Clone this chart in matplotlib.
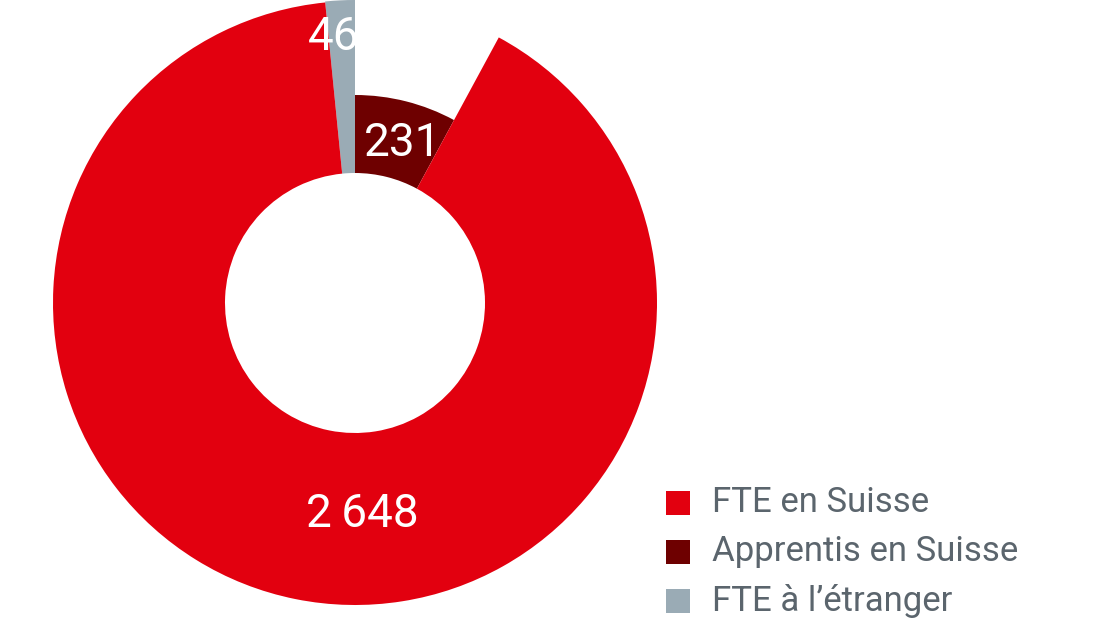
import matplotlib
matplotlib.use("Agg")
import matplotlib.pyplot as plt
from matplotlib.patches import Wedge, Rectangle

labels = ["FTE en Suisse", "Apprentis en Suisse", "FTE à l’étranger"]
values = [2648, 231, 46]
valueText = ["2\u2009648", "231", "46"]
colors = ["#e2000f", "#6e0000", "#9aabb5"]

plt.rcParams["font.family"] = ["Roboto", "DejaVu Sans"]
fig = plt.figure(figsize=(11.1, 6.25), dpi=100)
ax = fig.add_axes([0, 0, 1, 1])
ax.set_xlim(0, 1110)
ax.set_ylim(0, 625)
ax.set_aspect("equal")
ax.axis("off")

cx, cy = 355, 322
rIn = 130
total = sum(values)
degApp = values[1] / total * 360
degAbroad = values[2] / total * 360

# apprentices: clockwise from top, shorter radius
ax.add_patch(Wedge((cx, cy), 208, 90 - degApp, 90, width=208 - rIn, color=colors[1], lw=0))
# abroad: just left of top
ax.add_patch(Wedge((cx, cy), 303, 90, 90 + degAbroad, width=303 - rIn, color=colors[2], lw=0))
# main slice
ax.add_patch(Wedge((cx, cy), 302, 90 + degAbroad, 450 - degApp, width=302 - rIn, color=colors[0], lw=0))

ax.text(403, 482, valueText[1], color="white", fontsize=33, ha="center", va="center")
ax.text(334, 588, valueText[2], color="white", fontsize=33, ha="center", va="center")
ax.text(362, 111, valueText[0], color="white", fontsize=33, ha="center", va="center")

for i, lab in enumerate(labels):
    y = 122 - i * 49
    ax.add_patch(Rectangle((666, y - 12), 24, 24, color=colors[i], lw=0))
    ax.text(712, y, lab, color="#5b656d", fontsize=25, va="center", ha="left")

fig.savefig("out.png", dpi=100)
